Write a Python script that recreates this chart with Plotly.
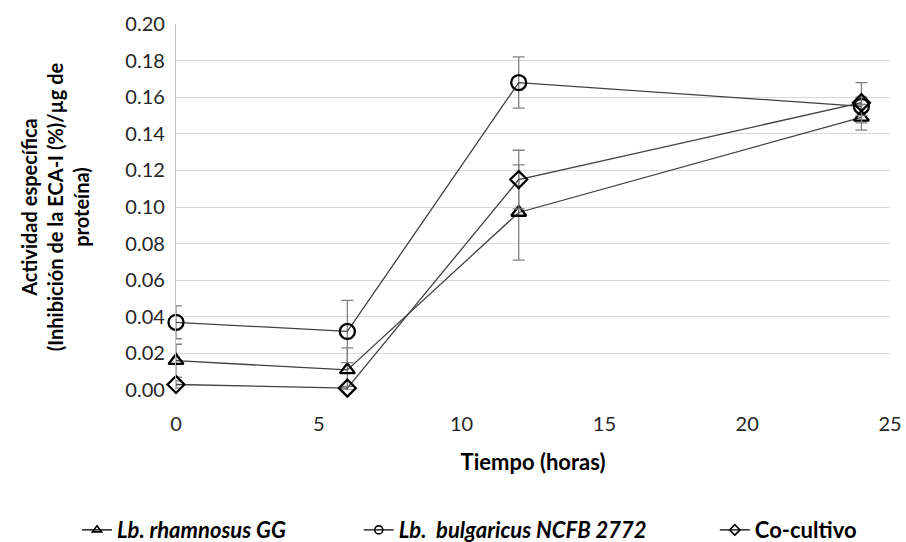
import plotly.graph_objects as go

# Tiempo de muestreo (horas)
tiempo = [0, 6, 12, 24]

# Actividad específica media y desviación por cultivo
rhamnosus = [0.016, 0.011, 0.097, 0.149]
rhamnosus_err = [0.009, 0.012, 0.026, 0.007]

bulgaricus = [0.037, 0.032, 0.168, 0.155]
bulgaricus_err = [0.009, 0.017, 0.014, 0.005]

cocultivo = [0.003, 0.001, 0.115, 0.157]
cocultivo_err = [0.002, 0.001, 0.016, 0.011]

y_ticks = [0.00, 0.02, 0.04, 0.06, 0.08, 0.10, 0.12, 0.14, 0.16, 0.18, 0.20]
x_ticks = [0, 5, 10, 15, 20, 25]

FONT = "Lato"
# nombre, valores, errores, símbolo, tamaño, leyenda, posición x de la leyenda (fracción del lienzo)
series = [
    ("<b><i>Lb. rhamnosus GG</i></b>", rhamnosus, rhamnosus_err, "triangle-up-open", 13, "legend", 0.0850),
    ("<b><i>Lb.  bulgaricus NCFB 2772</i></b>", bulgaricus, bulgaricus_err, "circle-open", 15, "legend2", 0.3960),
    ("<b>Co-cultivo</b>", cocultivo, cocultivo_err, "diamond-open", 13, "legend3", 0.7890),
]

fig = go.Figure()
legends = {}
for name, vals, err, sym, size, leg, lx in series:
    fig.add_trace(go.Scatter(
        x=tiempo, y=vals, mode="lines+markers", name=name, showlegend=False,
        cliponaxis=False,
        line=dict(color="#404040", width=1.3),
        marker=dict(symbol=sym, size=size, color="black", line=dict(width=2.3, color="black")),
        error_y=dict(type="data", array=err, visible=True, color="#808080", thickness=1.3, width=6),
    ))
    # entrada de leyenda con marcador reducido
    fig.add_trace(go.Scatter(
        x=[None], y=[None], mode="lines+markers", name=name, showlegend=True, legend=leg,
        line=dict(color="black", width=1.3),
        marker=dict(symbol=sym, size=8, color="black", line=dict(width=1.6, color="black")),
    ))
    legends[leg] = dict(
        orientation="h", x=lx, xref="container", xanchor="left",
        y=0.022, yref="container", yanchor="middle",
        font=dict(family=FONT, size=22, color="black"), bgcolor="rgba(0,0,0,0)",
    )

fig.update_layout(
    width=906, height=542,
    margin=dict(l=176, r=16, t=24, b=152, autoexpand=False),
    paper_bgcolor="white", plot_bgcolor="white",
    font=dict(family=FONT, size=20, color="#262626"),
    showlegend=True,
    **legends,
    xaxis=dict(
        range=[0, 25], tickvals=x_ticks, ticks="", showgrid=False, zeroline=False,
        showline=False, ticklabelstandoff=20, automargin=False,
        title=dict(text="<b>Tiempo (horas)</b>", font=dict(family=FONT, size=22, color="black"), standoff=20),
        tickfont=dict(family=FONT, size=20, color="#262626"),
    ),
    yaxis=dict(
        range=[0, 0.20], tickvals=y_ticks, tickformat=".2f", ticks="",
        showgrid=True, gridcolor="#d9d9d9", gridwidth=1.3, zeroline=False,
        showline=True, linecolor="#bfbfbf", linewidth=1.3, ticklabelstandoff=6,
        automargin=False,
        title=dict(
            text="<b>Actividad específica<br>(Inhibición de la ECA-I (%)/µg de<br>proteína)</b>",
            font=dict(family=FONT, size=20, color="black"), standoff=30,
        ),
        tickfont=dict(family=FONT, size=20, color="#262626"),
    ),
)

fig.write_html("out.html")
